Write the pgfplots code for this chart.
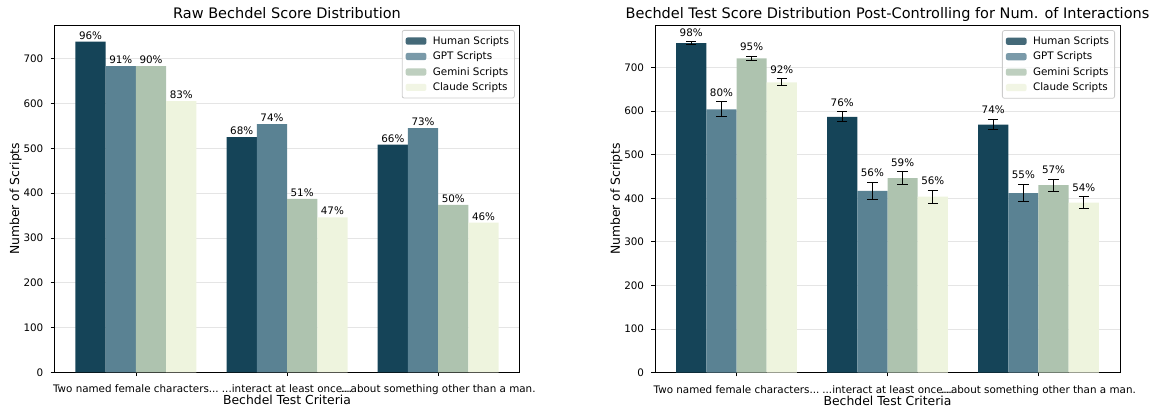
\documentclass[border=0pt]{standalone}
\usepackage{fontspec}
\setmainfont{DejaVu Sans}
\usepackage{pgfplots}
\pgfplotsset{compat=1.18}
\usepackage{pgfplotstable}

\definecolor{human}{HTML}{154458}
\definecolor{gpt}{HTML}{5A8293}
\definecolor{gemini}{HTML}{AEC3AF}
\definecolor{claude}{HTML}{EEF4DE}
\newcommand\dd{...}

% Raw counts
\pgfplotstableread{
g y p
0 738 96
1 525 68
2 508 66
}\rawHuman
\pgfplotstableread{
g y p
0 683 91
1 554 74
2 545 73
}\rawGPT
\pgfplotstableread{
g y p
0 683 90
1 387 51
2 374 50
}\rawGemini
\pgfplotstableread{
g y p
0 605 83
1 346 47
2 334 46
}\rawClaude

% Controlled counts with errors
\pgfplotstableread{
g y e p
0 756 3 98
1 587 12 76
2 569 12 74
}\ctlHuman
\pgfplotstableread{
g y e p
0 604 17 80
1 417 20 56
2 412 20 55
}\ctlGPT
\pgfplotstableread{
g y e p
0 721 5 95
1 446 15 59
2 430 14 57
}\ctlGemini
\pgfplotstableread{
g y e p
0 666 8 92
1 404 15 56
2 390 14 54
}\ctlClaude

\pgfplotsset{
  mybase/.style={
    scale only axis, width=465.5bp, height=347.5bp,
    xmin=-0.54, xmax=2.54, ymin=0,
    xtick={0,1,2},
    xticklabels={{Two named female characters\dd},{\dd interact at least once\dd},{\dd about something other than a man.}},
    ytick={0,100,200,300,400,500,600,700},
    tick pos=left, tick align=outside, major tick length=3.6bp,
    every tick/.style={black, line width=0.8bp},
    axis line style={black, line width=0.8bp},
    ymajorgrids, major grid style={black!10, line width=0.8bp},
    tick label style={font=\fontsize{10.35bp}{12bp}\selectfont, black},
    /pgf/number format/assume math mode=true,
    yticklabel style={anchor=east, inner sep=0pt, xshift=-7.2bp},
    xticklabel style={anchor=base, inner sep=0pt, yshift=-16.8bp},
    every axis y label/.style={at={(axis description cs:-0.083,0.5)}, rotate=90, anchor=center, inner sep=0pt, font=\fontsize{12.4bp}{14bp}\selectfont},
    every axis x label/.style={at={(axis description cs:0.5,-0.08)}, anchor=center, inner sep=0pt, font=\fontsize{12.4bp}{14bp}\selectfont},
    every axis title/.style={at={(axis description cs:0.5,1)}, anchor=base, yshift=6.2bp, inner sep=0pt, font=\fontsize{14.5bp}{17bp}\selectfont},
    xlabel={Bechdel Test Criteria}, ylabel={Number of Scripts},
    legend cell align=left,
    legend style={at={(axis description cs:1,1)}, anchor=north east, xshift=-5bp, yshift=-5bp,
      draw=black!20, line width=0.8bp, rounded corners=2bp, fill=white, fill opacity=0.8, text opacity=1,
      font=\fontsize{10.35bp}{12bp}\selectfont, inner xsep=3.5bp, inner ysep=4bp, row sep=2.1bp,
      /tikz/every odd column/.append style={column sep=4.5bp}},
  },
  mybar/.style={ybar, bar width=0.2, bar shift=0pt, draw=none, fill=#1,
    legend image code/.code={\fill[##1] (0bp,-3.6bp) rectangle (20.7bp,3.6bp);}},
  mylab/.style={draw=none, mark=none, forget plot, point meta=explicit symbolic,
    nodes near coords={\pgfplotspointmeta\%},
    every node near coord/.style={anchor=base, yshift=#1, inner sep=0pt, black, font=\fontsize{10.35bp}{12bp}\selectfont}},
  myerr/.style={error bars/.cd, y dir=both, y explicit, error mark=-,
    error bar style={draw=black, line width=1bp},
    error mark options={rotate=90, draw=black, line width=1bp, mark size=5.2bp}},
}

\begin{document}
\begin{tikzpicture}
\useasboundingbox (0,0) rectangle (1157bp,411bp);

\begin{axis}[mybase, at={(54.3bp,38.5bp)}, anchor=south west, ymax=775,
  title={Raw Bechdel Score Distribution}]
\addplot[mybar=human] table[x expr=\thisrow{g}-0.3, y=y] {\rawHuman};
\addlegendentry{Human Scripts}
\addplot[mybar=gpt] table[x expr=\thisrow{g}-0.1, y=y] {\rawGPT};
\addlegendentry{GPT Scripts}
\addplot[mybar=gemini] table[x expr=\thisrow{g}+0.1, y=y] {\rawGemini};
\addlegendentry{Gemini Scripts}
\addplot[mybar=claude] table[x expr=\thisrow{g}+0.3, y=y] {\rawClaude};
\addlegendentry{Claude Scripts}
\addplot[mylab=2.5bp] table[x expr=\thisrow{g}-0.3, y=y, meta=p] {\rawHuman};
\addplot[mylab=2.5bp] table[x expr=\thisrow{g}-0.1, y=y, meta=p] {\rawGPT};
\addplot[mylab=2.5bp] table[x expr=\thisrow{g}+0.1, y=y, meta=p] {\rawGemini};
\addplot[mylab=2.5bp] table[x expr=\thisrow{g}+0.3, y=y, meta=p] {\rawClaude};
\end{axis}

\begin{axis}[mybase, at={(655bp,38.3bp)}, anchor=south west, width=465bp, ymax=797,
  title={Bechdel Test Score Distribution Post-Controlling for Num. of Interactions}]
\addplot[mybar=human, myerr] table[x expr=\thisrow{g}-0.3, y=y, y error=e] {\ctlHuman};
\addlegendentry{Human Scripts}
\addplot[mybar=gpt, myerr] table[x expr=\thisrow{g}-0.1, y=y, y error=e] {\ctlGPT};
\addlegendentry{GPT Scripts}
\addplot[mybar=gemini, myerr] table[x expr=\thisrow{g}+0.1, y=y, y error=e] {\ctlGemini};
\addlegendentry{Gemini Scripts}
\addplot[mybar=claude, myerr] table[x expr=\thisrow{g}+0.3, y=y, y error=e] {\ctlClaude};
\addlegendentry{Claude Scripts}
\addplot[mylab=5.5bp] table[x expr=\thisrow{g}-0.3, y expr=\thisrow{y}+\thisrow{e}, meta=p] {\ctlHuman};
\addplot[mylab=5.5bp] table[x expr=\thisrow{g}-0.1, y expr=\thisrow{y}+\thisrow{e}, meta=p] {\ctlGPT};
\addplot[mylab=5.5bp] table[x expr=\thisrow{g}+0.1, y expr=\thisrow{y}+\thisrow{e}, meta=p] {\ctlGemini};
\addplot[mylab=5.5bp] table[x expr=\thisrow{g}+0.3, y expr=\thisrow{y}+\thisrow{e}, meta=p] {\ctlClaude};
\end{axis}
\end{tikzpicture}
\end{document}
